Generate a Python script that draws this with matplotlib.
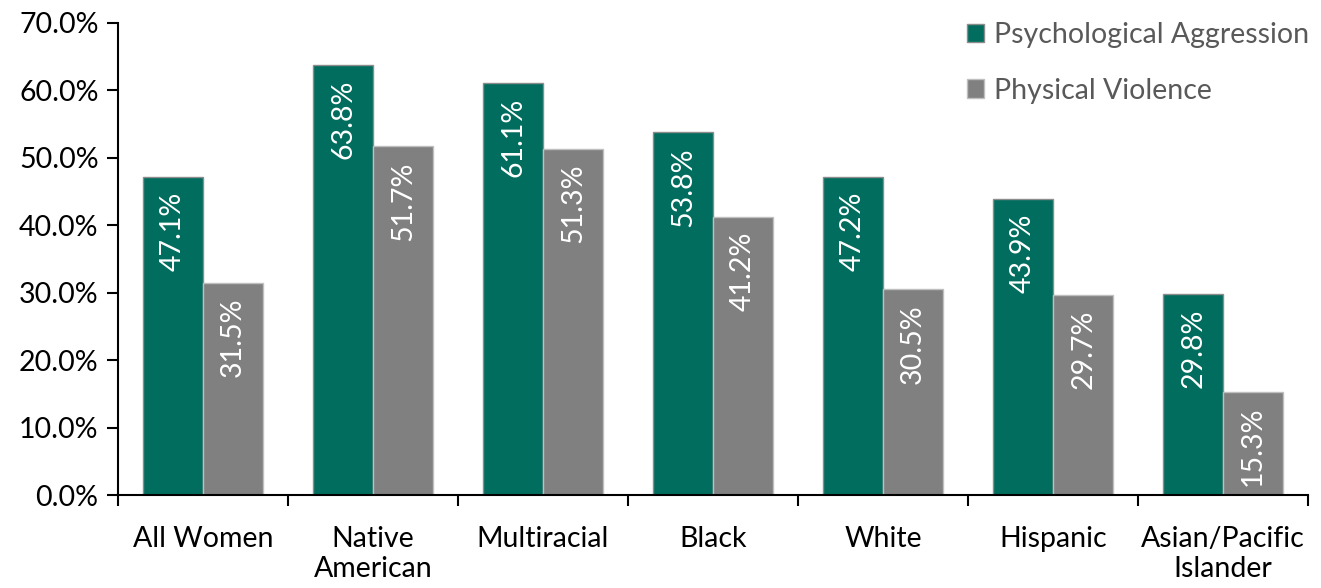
import numpy as np
import matplotlib.pyplot as plt
from matplotlib.ticker import PercentFormatter

groups = ['All Women', 'Native\nAmerican', 'Multiracial', 'Black', 'White',
          'Hispanic', 'Asian/Pacific\nIslander']
psych = [47.1, 63.8, 61.1, 53.8, 47.2, 43.9, 29.8]
phys = [31.5, 51.7, 51.3, 41.2, 30.5, 29.7, 15.3]

green = '#006D5E'
grey = '#808080'
fs = 20.5

plt.rcParams['font.family'] = ['Lato', 'DejaVu Sans']

fig = plt.figure(figsize=(13.21, 5.88), dpi=100)
ax = fig.add_axes([0.0893, 0.158, 0.901, 0.803])

x = np.arange(len(groups))
w = 0.353
b1 = ax.bar(x - w / 2, psych, w, color=green, edgecolor='#8C8C8C', linewidth=1,
            label='Psychological Aggression')
b2 = ax.bar(x + w / 2, phys, w, color=grey, edgecolor='#BFBFBF', linewidth=1,
            label='Physical Violence')

for bars, vals in ((b1, psych), (b2, phys)):
    for r, v in zip(bars, vals):
        ax.text(r.get_x() + r.get_width() / 2, v - 2.2, f'{v:.1f}%',
                rotation=90, ha='center', va='top', color='white', fontsize=fs)

ax.set_xlim(-0.5, len(groups) - 0.5)
ax.set_ylim(0, 70)
ax.set_yticks(np.arange(0, 71, 10))
ax.yaxis.set_major_formatter(PercentFormatter(decimals=1))
ax.set_xticks(x)
ax.set_xticklabels(groups, linespacing=1.22)
ax.set_xticks(np.arange(-0.5, len(groups), 1), minor=True)
ax.tick_params(axis='x', which='major', length=0, pad=22, labelsize=fs)
ax.tick_params(axis='x', which='minor', length=8, width=1.5, direction='out')
ax.tick_params(axis='y', length=8, width=1.5, labelsize=fs, pad=6)

for s in ('top', 'right'):
    ax.spines[s].set_visible(False)
for s in ('left', 'bottom'):
    ax.spines[s].set_linewidth(1.5)

leg = ax.legend(loc='upper right', bbox_to_anchor=(1.022, 1.057), frameon=False,
                fontsize=fs, handlelength=0.6, handleheight=0.6,
                handletextpad=0.35, labelspacing=1.05, labelcolor='#595959')

fig.savefig('out.png', dpi=100)
